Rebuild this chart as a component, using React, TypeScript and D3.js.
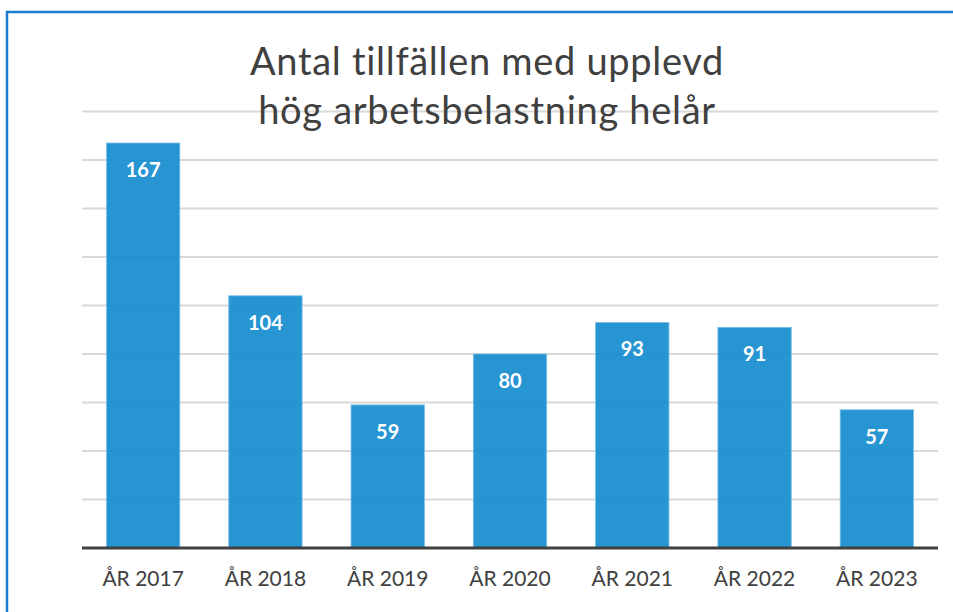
import { useEffect, useRef } from 'react';
import * as d3 from 'd3';

const categories = ['ÅR 2017', 'ÅR 2018', 'ÅR 2019', 'ÅR 2020', 'ÅR 2021', 'ÅR 2022', 'ÅR 2023'];
const values = [167, 104, 59, 80, 93, 91, 57];
const gridTicks = [20, 40, 60, 80, 100, 120, 140, 160, 180];
const titleLines = ['Antal tillfällen med upplevd', 'hög arbetsbelastning helår'];

export default function App() {
  const svgRef = useRef<SVGSVGElement>(null);
  const width = 953;
  const height = 612;

  useEffect(() => {
    if (!svgRef.current) return;
    const svg = d3.select(svgRef.current);
    svg.selectAll('*').remove();

    const left = 82;
    const right = 938;
    const base = 548;

    const x = d3.scaleBand<string>().domain(categories).range([left, right]).paddingInner(0.4).paddingOuter(0.2);
    const y = d3.scaleLinear().domain([0, 167]).range([base, 143]);

    svg
      .append('rect')
      .attr('x', 7)
      .attr('y', 12)
      .attr('width', 980)
      .attr('height', 700)
      .attr('fill', 'white')
      .attr('stroke', '#1a7bd0')
      .attr('stroke-width', 2.5);

    svg
      .append('g')
      .selectAll('line')
      .data(gridTicks)
      .join('line')
      .attr('x1', left)
      .attr('x2', right)
      .attr('y1', (d) => y(d))
      .attr('y2', (d) => y(d))
      .attr('stroke', '#d9d9d9')
      .attr('stroke-width', 2);

    svg
      .append('g')
      .selectAll('rect')
      .data(values)
      .join('rect')
      .attr('x', (_, i) => x(categories[i]) as number)
      .attr('y', (d) => y(d))
      .attr('width', x.bandwidth())
      .attr('height', (d) => base - y(d))
      .attr('fill', '#168ccf')
      .attr('fill-opacity', 0.92)
      .attr('stroke', '#7cc0e8')
      .attr('stroke-width', 0.8);

    svg
      .append('g')
      .selectAll('text')
      .data(values)
      .join('text')
      .attr('x', (_, i) => (x(categories[i]) as number) + x.bandwidth() / 2)
      .attr('y', (d) => y(d) + 34)
      .attr('text-anchor', 'middle')
      .attr('fill', 'white')
      .attr('font-weight', 700)
      .attr('font-size', 20)
      .attr('font-family', 'Lato, "Open Sans", sans-serif')
      .text((d) => d);

    svg
      .append('line')
      .attr('x1', left)
      .attr('x2', right)
      .attr('y1', base)
      .attr('y2', base)
      .attr('stroke', '#404040')
      .attr('stroke-width', 3);

    svg
      .append('g')
      .selectAll('text')
      .data(categories)
      .join('text')
      .attr('x', (d) => (x(d) as number) + x.bandwidth() / 2)
      .attr('y', 586)
      .attr('text-anchor', 'middle')
      .attr('fill', '#404040')
      .attr('font-size', 21)
      .attr('font-family', 'Lato, "Open Sans", sans-serif')
      .text((d) => d);

    svg
      .append('g')
      .selectAll('text')
      .data(titleLines)
      .join('text')
      .attr('x', 487)
      .attr('y', (_, i) => 75 + i * 49)
      .attr('text-anchor', 'middle')
      .attr('fill', '#404040')
      .attr('font-size', 38)
      .attr('letter-spacing', 0.7)
      .attr('font-family', 'Lato, "Open Sans", sans-serif')
      .text((d) => d);
  }, []);

  return (
    <svg
      ref={svgRef}
      width={width}
      height={height}
      style={{ position: 'absolute', left: 0, top: 0, background: 'white' }}
    />
  );
}
